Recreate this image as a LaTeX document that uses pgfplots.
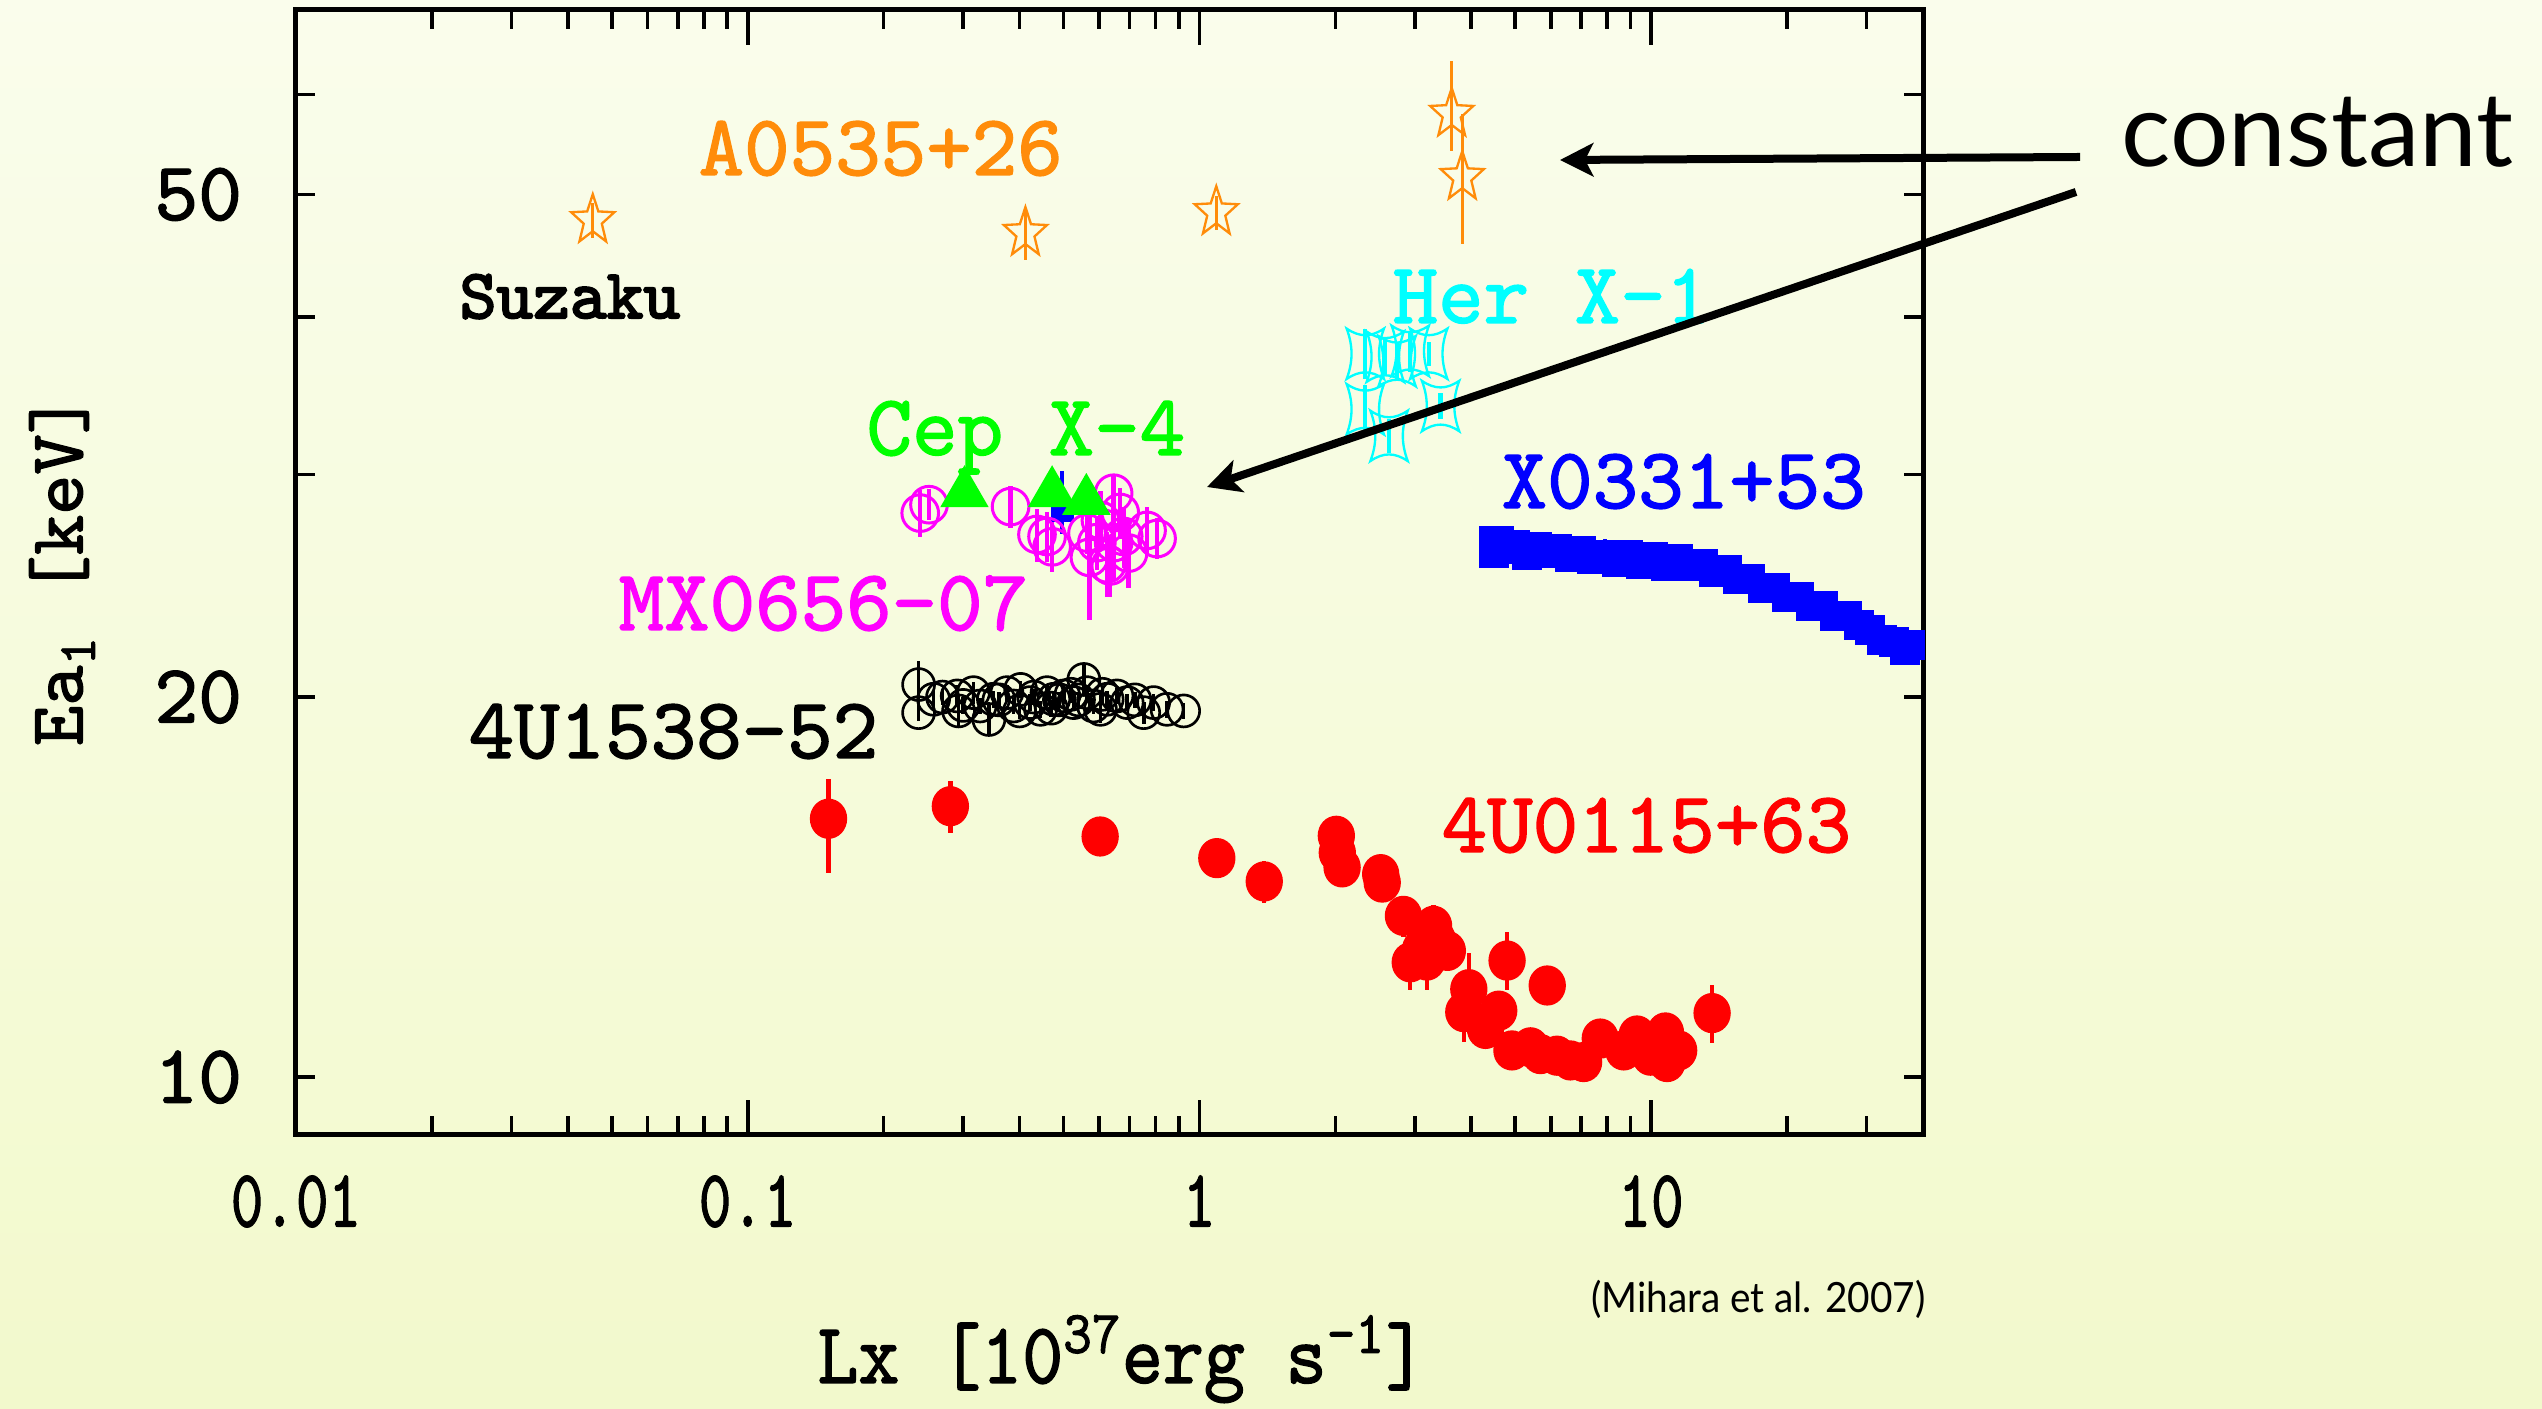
\documentclass[border=0pt]{standalone}
\usepackage{pgfplots}
\pgfplotsset{compat=1.18}
\usepackage{graphicx}
\usepackage{fontspec}
\usetikzlibrary{arrows.meta}
\newfontfamily\gill{Lato}
\newfontfamily\monob{lmmono10-regular.otf}[FakeBold=1.6]
\newfontfamily\monobb{lmmono10-regular.otf}[FakeBold=3]
\definecolor{bgtop}{RGB}{250,253,236}
\definecolor{bgbot}{RGB}{242,249,204}
\definecolor{aorange}{RGB}{255,140,10}
\definecolor{hcyan}{RGB}{0,255,255}
\definecolor{cgreen}{RGB}{0,255,0}
\definecolor{mmag}{RGB}{255,0,255}
\definecolor{xblue}{RGB}{0,0,255}
\definecolor{ured}{RGB}{255,0,0}
\newcommand{\lab}{\fontsize{26}{30}\selectfont\monob}
\pgfdeclareplotmark{ostar}{%
  \pgfpathmoveto{\pgfpointpolar{90}{\pgfplotmarksize}}%
  \pgfpathlineto{\pgfpointpolar{126}{0.42\pgfplotmarksize}}%
  \pgfpathlineto{\pgfpointpolar{162}{\pgfplotmarksize}}%
  \pgfpathlineto{\pgfpointpolar{198}{0.42\pgfplotmarksize}}%
  \pgfpathlineto{\pgfpointpolar{234}{\pgfplotmarksize}}%
  \pgfpathlineto{\pgfpointpolar{270}{0.42\pgfplotmarksize}}%
  \pgfpathlineto{\pgfpointpolar{306}{\pgfplotmarksize}}%
  \pgfpathlineto{\pgfpointpolar{342}{0.42\pgfplotmarksize}}%
  \pgfpathlineto{\pgfpointpolar{18}{\pgfplotmarksize}}%
  \pgfpathlineto{\pgfpointpolar{54}{0.42\pgfplotmarksize}}%
  \pgfpathclose\pgfusepathqstroke}
\pgfdeclareplotmark{hstar}{%
  \pgfpathmoveto{\pgfqpoint{\pgfplotmarksize}{\pgfplotmarksize}}%
  \pgfpathcurveto{\pgfqpoint{0.3\pgfplotmarksize}{0.65\pgfplotmarksize}}{\pgfqpoint{-0.3\pgfplotmarksize}{0.65\pgfplotmarksize}}{\pgfqpoint{-\pgfplotmarksize}{\pgfplotmarksize}}%
  \pgfpathcurveto{\pgfqpoint{-0.65\pgfplotmarksize}{0.3\pgfplotmarksize}}{\pgfqpoint{-0.65\pgfplotmarksize}{-0.3\pgfplotmarksize}}{\pgfqpoint{-\pgfplotmarksize}{-\pgfplotmarksize}}%
  \pgfpathcurveto{\pgfqpoint{-0.3\pgfplotmarksize}{-0.65\pgfplotmarksize}}{\pgfqpoint{0.3\pgfplotmarksize}{-0.65\pgfplotmarksize}}{\pgfqpoint{\pgfplotmarksize}{-\pgfplotmarksize}}%
  \pgfpathcurveto{\pgfqpoint{0.65\pgfplotmarksize}{-0.3\pgfplotmarksize}}{\pgfqpoint{0.65\pgfplotmarksize}{0.3\pgfplotmarksize}}{\pgfqpoint{\pgfplotmarksize}{\pgfplotmarksize}}%
  \pgfpathclose\pgfusepathqstroke}
\begin{document}
\begin{tikzpicture}[x=1pt,y=1pt]
\shade[top color=bgtop,bottom color=bgbot] (0,0) rectangle (762.6,422.7);
\useasboundingbox (0,0) rectangle (762.6,422.7);
\begin{axis}[
  at={(88.8pt,82.2pt)}, anchor=south west,
  scale only axis, width=488.1pt, height=337.5pt,
  xmode=log, ymode=log,
  xmin=0.01, xmax=40, ymin=9, ymax=70,
  axis line style={line width=1.5pt},
  tick align=inside, xtick pos=both, ytick pos=both,
  every tick/.style={black, line width=1.1pt},
  major tick length=10.5pt, minor tick length=5.8pt,
  xtick={0.01,0.1,1,10},
  xticklabels={\scalebox{0.76}[1]{0.01},\scalebox{0.76}[1]{0.1},\scalebox{0.76}[1]{1},\scalebox{0.76}[1]{10}},
  minor xtick={0.02,0.03,0.04,0.05,0.06,0.07,0.08,0.09,0.2,0.3,0.4,0.5,0.6,0.7,0.8,0.9,2,3,4,5,6,7,8,9,20,30},
  xminorticks=true,
  ytick={10,20,50}, yticklabels={10,20,50},
  major y tick style={draw=none},
  minor ytick={10,20,30,40,50,60},
  yminorticks=true,
  xticklabel style={font=\fontsize{24.5}{25}\selectfont\monob, anchor=north, inner sep=0pt, yshift=-12pt},
  yticklabel style={font=\fontsize{25}{25}\selectfont\monob, anchor=east, inner sep=0pt, xshift=-16pt},
  error bars/error mark=none,
]
% A0535+26
\addplot[only marks, color=aorange, mark=ostar, mark size=6.8pt, mark options={line width=0.7pt, yscale=1.15},
  error bars/.cd, y dir=both, y explicit, error bar style={line width=1pt}]
coordinates {
 (0.0454,47.7) +- (0,1.5)
 (0.412,46.6) +- (0,2.2)
 (1.09,48.4) +- (0,1.5)
 (3.62,57.9) += (0,5.9) -= (0,3.8)
 (3.82,51.6) += (0,6.3) -= (0,5.9)
};
% Her X-1
\addplot[only marks, color=hcyan, mark=hstar, mark size=5.6pt, mark options={line width=0.7pt, yscale=1.35},
  error bars/.cd, y dir=both, y explicit, error bar style={line width=1.3pt}]
coordinates {
 (2.33,37.4) +- (0,1.7)
 (2.58,37.2) +- (0,1.2)
 (2.74,36.9) +- (0,1.3)
 (2.93,37.6) +- (0,1.4)
 (3.22,37.4) +- (0,0.8)
 (2.33,33.8) +- (0,1.5)
 (2.63,32.2) +- (0,1.0)
 (3.42,34.0) +- (0,0.8)
};
% 4U1538-52
\addplot[only marks, color=black, mark=o, mark size=4.8pt, mark options={line width=0.8pt},
  error bars/.cd, y dir=both, y explicit, error bar style={line width=1.1pt}]
coordinates {
 (0.239,20.46) +- (0,0.9)
 (0.239,19.44) +- (0,0.3)
 (0.258,19.92) +- (0,0.3)
 (0.27,20.0) +- (0,0.3)
 (0.291,20.04) +- (0,0.4)
 (0.293,19.50) +- (0,0.6)
 (0.30,19.7) +- (0,0.3)
 (0.316,20.16) +- (0,0.4)
 (0.327,19.68) +- (0,0.3)
 (0.342,19.20) +- (0,0.5)
 (0.350,19.92) +- (0,0.3)
 (0.36,19.9) +- (0,0.3)
 (0.375,20.16) +- (0,0.3)
 (0.388,19.68) +- (0,0.3)
 (0.40,19.5) +- (0,0.3)
 (0.402,20.28) +- (0,0.3)
 (0.422,19.80) +- (0,0.3)
 (0.43,20.0) +- (0,0.3)
 (0.445,19.56) +- (0,0.3)
 (0.460,20.16) +- (0,0.3)
 (0.47,19.6) +- (0,0.3)
 (0.476,19.92) +- (0,0.3)
 (0.49,19.9) +- (0,0.3)
 (0.501,20.04) +- (0,0.3)
 (0.52,20.1) +- (0,0.3)
 (0.527,19.80) +- (0,0.3)
 (0.54,19.9) +- (0,0.3)
 (0.555,20.65) +- (0,0.6)
 (0.564,20.16) +- (0,0.3)
 (0.583,19.68) +- (0,0.3)
 (0.604,19.56) +- (0,0.5)
 (0.61,20.1) +- (0,0.3)
 (0.625,19.92) +- (0,0.3)
 (0.657,20.04) +- (0,0.3)
 (0.692,19.80) +- (0,0.3)
 (0.72,19.9) +- (0,0.3)
 (0.753,19.44) +- (0,0.4)
 (0.792,19.80) +- (0,0.3)
 (0.848,19.56) +- (0,0.3)
 (0.923,19.50) +- (0,0.3)
};
% 4U0115+63
\addplot[only marks, color=ured, mark=*, mark size=5.4pt, mark options={yscale=1.08},
  error bars/.cd, y dir=both, y explicit, error bar style={line width=1.3pt}]
coordinates {
 (0.151,16.02) += (0,1.21) -= (0,1.52)
 (0.281,16.39) +- (0,0.78)
 (0.603,15.51) +- (0,0.1)
 (1.093,14.91) +- (0,0.4)
 (1.392,14.29) +- (0,0.55)
 (2.01,15.53) +- (0,0.2)
 (2.02,15.06) +- (0,0.2)
 (2.07,14.66) +- (0,0.45)
 (2.52,14.48) +- (0,0.4)
 (2.54,14.26) +- (0,0.2)
 (2.83,13.42) +- (0,0.5)
 (3.30,13.18) +- (0,0.5)
 (3.36,12.86) +- (0,0.3)
 (3.54,12.59) +- (0,0.45)
 (2.93,12.33) +- (0,0.6)
 (3.19,12.37) +- (0,0.65)
 (3.09,12.63) +- (0,0.3)
 (3.95,11.74) +- (0,0.8)
 (3.85,11.26) +- (0,0.6)
 (4.30,10.92) +- (0,0.2)
 (4.60,11.29) +- (0,0.2)
 (4.80,12.37) +- (0,0.65)
 (5.89,11.82) +- (0,0.1)
 (4.92,10.50) +- (0,0.1)
 (5.41,10.56) +- (0,0.1)
 (5.69,10.43) +- (0,0.1)
 (6.19,10.40) +- (0,0.1)
 (6.63,10.31) +- (0,0.1)
 (7.09,10.28) +- (0,0.1)
 (7.72,10.73) +- (0,0.1)
 (8.70,10.50) +- (0,0.1)
 (9.31,10.79) +- (0,0.1)
 (9.97,10.40) +- (0,0.1)
 (10.76,10.85) +- (0,0.1)
 (10.85,10.28) +- (0,0.1)
 (11.51,10.50) +- (0,0.1)
 (13.65,11.24) +- (0,0.6)
};
% X0331+53
\addplot[only marks, color=xblue, mark=square*, mark size=4.3pt,
  error bars/.cd, y dir=both, y explicit, error bar style={line width=1.1pt}]
coordinates {
 (4.5,26.6) +- (0,0.6) (4.5,26.0) +- (0,0.3) (4.6,26.6) +- (0,0.3) (4.8,26.2) +- (0,0.3)
 (5.0,26.4) +- (0,0.3) (5.3,25.9) +- (0,0.3) (5.6,26.3) +- (0,0.3) (5.9,26.0) +- (0,0.5)
 (6.2,26.2) +- (0,0.3) (6.6,25.8) +- (0,0.3) (7.0,26.1) +- (0,0.3) (7.4,25.7) +- (0,0.3)
 (7.9,25.9) +- (0,0.8) (8.4,25.6) +- (0,0.3) (8.9,25.9) +- (0,0.3) (9.5,25.5) +- (0,0.3)
 (10.1,25.8) +- (0,0.3) (10.8,25.4) +- (0,0.3) (11.5,25.7) +- (0,0.3) (12.2,25.4) +- (0,0.3)
 (13.0,25.5) +- (0,0.3) (13.8,25.1) +- (0,0.3) (14.7,25.2) +- (0,0.3) (15.6,24.8) +- (0,0.3)
 (16.6,24.8) +- (0,0.3) (17.7,24.4) +- (0,0.3) (18.8,24.4) +- (0,0.3) (20.0,24.0) +- (0,0.3)
 (21.3,24.0) +- (0,0.3) (22.6,23.6) +- (0,0.3) (24.0,23.6) +- (0,0.3) (25.5,23.2) +- (0,0.3)
 (27.1,23.2) +- (0,0.3) (28.8,22.8) +- (0,0.3) (30.6,22.6) +- (0,0.3) (32.5,22.2) +- (0,0.3)
 (34.5,22.1) +- (0,0.3) (36.5,21.8) +- (0,0.3) (37.5,22.0) +- (0,0.3)
};
% blue point near Cep X-4
\addplot[only marks, color=xblue, mark=square*, mark size=3.2pt,
  error bars/.cd, y dir=both, y explicit, error bar style={line width=1.3pt}]
coordinates { (0.497,28.1) += (0,2.1) -= (0,1.2) };
% MX0656-07
\addplot[only marks, color=mmag, mark=o, mark size=5.5pt, mark options={line width=0.9pt},
  error bars/.cd, y dir=both, y explicit, error bar style={line width=1.3pt}]
coordinates {
 (0.241,27.97) +- (0,1.2)
 (0.252,28.4) +- (0,0.8)
 (0.382,28.3) +- (0,1.1)
 (0.437,26.9) +- (0,1.3)
 (0.46,26.8) +- (0,1.2)
 (0.472,26.3) +- (0,1.2)
 (0.564,26.97) +- (0,1.0)
 (0.571,25.8) += (0,3.2) -= (0,2.8)
 (0.593,26.5) +- (0,1.3)
 (0.604,27.6) +- (0,1.5)
 (0.625,25.5) +- (0,1.5)
 (0.635,25.4) +- (0,1.4)
 (0.646,29.0) +- (0,1.0)
 (0.646,26.5) +- (0,1.8)
 (0.668,28.0) +- (0,1.3)
 (0.680,26.8) +- (0,1.5)
 (0.697,26.0) +- (0,1.6)
 (0.766,27.1) +- (0,1.2)
 (0.806,26.7) +- (0,1.0)
};
% Cep X-4
\addplot[only marks, color=cgreen, mark=triangle*, mark size=8pt,
  error bars/.cd, y dir=both, y explicit, error bar style={line width=1.3pt}]
coordinates {
 (0.302,29.0) +- (0,0.6)
 (0.472,29.0) +- (0,0.6)
 (0.562,28.6) +- (0,0.6)
};
\end{axis}
% source labels
\node[anchor=base west, inner sep=0pt, text=aorange, font=\lab] at (209.4,370.2) {A0535+26};
\node[anchor=base west, inner sep=0pt, text=black, font=\fontsize{21}{24}\selectfont\monobb] at (137.7,327.3) {Suzaku};
\node[anchor=base west, inner sep=0pt, text=hcyan, font=\lab] at (417.6,325.8) {Her X-1};
\node[anchor=base west, inner sep=0pt, text=cgreen, font=\lab] at (259.8,286.2) {Cep X-4};
\node[anchor=base west, inner sep=0pt, text=xblue, font=\lab] at (450.3,270.3) {X0331+53};
\node[anchor=base west, inner sep=0pt, text=mmag, font=\lab] at (185.4,233.7) {MX0656-07};
\node[anchor=base west, inner sep=0pt, text=black, font=\lab] at (140.4,195.3) {4U1538-52};
\node[anchor=base west, inner sep=0pt, text=ured, font=\lab] at (432.3,167.1) {4U0115+63};
% axis labels
\node[anchor=base, inner sep=0pt, font=\fontsize{26}{30}\selectfont\monob] at (336.6,7.8) {\scalebox{0.9}[1]{Lx [10\textsuperscript{37}erg s\textsuperscript{-1}]}};
\node[rotate=90, anchor=center, inner sep=0pt, font=\fontsize{23}{26}\selectfont\monob] at (18.6,251.7) {Ea\textsubscript{1} [keV]};
\node[anchor=base east, inner sep=0pt, font=\fontsize{12.5}{14}\selectfont\gill] at (577.8,28.8) {\scalebox{0.93}[1]{(Mihara et al. 2007)}};
% annotation
\node[anchor=base west, inner sep=0pt, font=\fontsize{31}{36}\selectfont\gill] at (636.3,372.6) {constant};
\draw[line width=2.4pt, -{Stealth[length=10pt,width=10pt,inset=2.5pt]}] (624,375.6) -- (468,374.7);
\draw[line width=2.4pt, -{Stealth[length=10pt,width=10pt,inset=2.5pt]}] (622.8,365.1) -- (362.1,276.6);
\end{tikzpicture}
\end{document}
